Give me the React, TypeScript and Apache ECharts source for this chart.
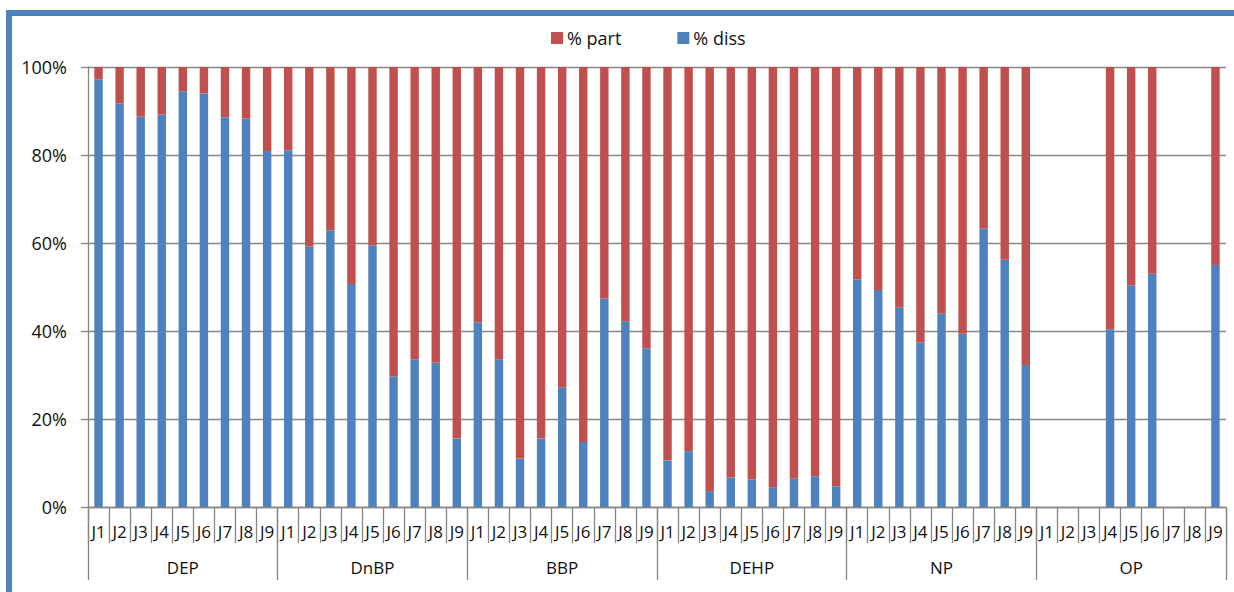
import React, { useEffect, useRef } from "react";
import * as echarts from "echarts";

const jLabels = ["J1", "J2", "J3", "J4", "J5", "J6", "J7", "J8", "J9"];
const groups = ["DEP", "DnBP", "BBP", "DEHP", "NP", "OP"];
const yTicks = [0, 20, 40, 60, 80, 100];

const dissDEP = [97.2, 91.7, 88.7, 89.2, 94.5, 94.0, 88.6, 88.3, 80.9];
const dissDnBP = [81.1, 59.2, 62.9, 50.7, 59.5, 29.7, 33.6, 32.8, 15.6];
const dissBBP = [42.0, 33.6, 11.0, 15.6, 27.2, 14.8, 47.4, 42.2, 36.1];
const dissDEHP = [10.6, 12.7, 3.6, 6.7, 6.3, 4.5, 6.5, 7.0, 4.7];
const dissNP = [51.7, 49.3, 45.3, 37.4, 43.9, 39.4, 63.3, 56.2, 32.3];
const dissOP = [null, null, null, 40.4, 50.4, 53.0, null, null, 55.0];

const partDEP = [2.8, 8.3, 11.3, 10.8, 5.5, 6.0, 11.4, 11.7, 19.1];
const partDnBP = [18.9, 40.8, 37.1, 49.3, 40.5, 70.3, 66.4, 67.2, 84.4];
const partBBP = [58.0, 66.4, 89.0, 84.4, 72.8, 85.2, 52.6, 57.8, 63.9];
const partDEHP = [89.4, 87.3, 96.4, 93.3, 93.7, 95.5, 93.5, 93.0, 95.3];
const partNP = [48.3, 50.7, 54.7, 62.6, 56.1, 60.6, 36.7, 43.8, 67.7];
const partOP = [null, null, null, 59.6, 49.6, 47.0, null, null, 45.0];

const FONT = "Open Sans";
const TEXT = "#111111";
const GRID = "#868686";

export default function App() {
  const ref = useRef<HTMLDivElement>(null);
  useEffect(() => {
    document.body.style.margin = "0";
    const chart = echarts.init(ref.current!, null, { renderer: "svg" });
    const cats: string[] = [];
    groups.forEach(() => jLabels.forEach((j) => cats.push(j)));
    const diss = [...dissDEP, ...dissDnBP, ...dissBBP, ...dissDEHP, ...dissNP, ...dissOP];
    const part = [...partDEP, ...partDnBP, ...partBBP, ...partDEHP, ...partNP, ...partOP];
    chart.setOption({
      animation: false,
      textStyle: { fontFamily: FONT },
      graphic: [
        {
          type: "rect",
          shape: { x: 9, y: 13, width: 1400, height: 800 },
          style: { fill: "none", stroke: "#4F81BD", lineWidth: 6 },
          silent: true,
        },
      ],
      legend: {
        data: ["% part", "% diss"],
        left: 551,
        top: 29,
        padding: 0,
        icon: "rect",
        itemWidth: 12,
        itemHeight: 12,
        itemGap: 56,
        textStyle: { fontFamily: FONT, fontSize: 18, color: TEXT, padding: [0, 0, 0, -1] },
      },
      grid: { left: 88, right: 8, top: 67, bottom: 85, containLabel: false },
      xAxis: [
        {
          type: "category",
          data: cats,
          position: "bottom",
          axisLine: { lineStyle: { color: GRID, width: 1.3 } },
          axisTick: { show: true, interval: 0, length: 36, lineStyle: { color: GRID, width: 1.3 } },
          axisLabel: { interval: 0, margin: 16, fontFamily: FONT, fontSize: 17, color: TEXT },
        },
        {
          type: "category",
          data: groups,
          position: "bottom",
          gridIndex: 0,
          axisLine: { show: false },
          axisTick: { show: true, interval: 0, length: 73, lineStyle: { color: GRID, width: 1.3 } },
          axisLabel: { interval: 0, margin: 52, fontFamily: FONT, fontSize: 17, color: TEXT },
          splitLine: { show: false },
        },
      ],
      yAxis: {
        type: "value",
        min: yTicks[0],
        max: yTicks[yTicks.length - 1],
        interval: 20,
        axisLine: { show: true, lineStyle: { color: GRID, width: 1.3 } },
        axisTick: { show: true, length: 7, lineStyle: { color: GRID, width: 1.3 } },
        axisLabel: { margin: 21, formatter: "{value}%", fontFamily: FONT, fontSize: 18, color: TEXT },
        splitLine: { show: true, lineStyle: { color: GRID, width: 1.3 } },
      },
      series: [
        {
          name: "% diss",
          type: "bar",
          stack: "total",
          data: diss,
          barWidth: "40%",
          itemStyle: { color: "#4F81BD" },
        },
        {
          name: "% part",
          type: "bar",
          stack: "total",
          data: part,
          barWidth: "40%",
          itemStyle: { color: "#C0504D" },
        },
      ],
    });
    return () => chart.dispose();
  }, []);
  return <div ref={ref} style={{ width: 1234, height: 592 }} />;
}
